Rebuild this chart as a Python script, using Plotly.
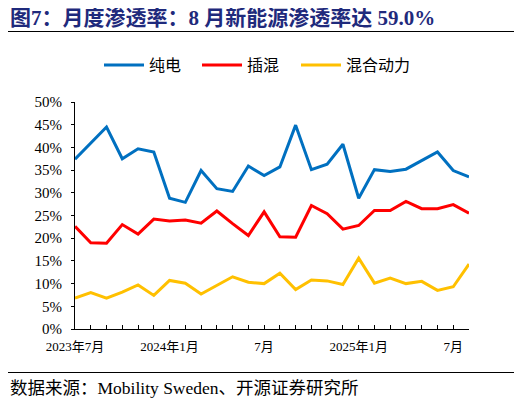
import plotly.graph_objects as go

months = ["2023-07","2023-08","2023-09","2023-10","2023-11","2023-12",
          "2024-01","2024-02","2024-03","2024-04","2024-05","2024-06",
          "2024-07","2024-08","2024-09","2024-10","2024-11","2024-12",
          "2025-01","2025-02","2025-03","2025-04","2025-05","2025-06",
          "2025-07","2025-08"]
bev = [37.4, 41.0, 44.5, 37.5, 39.7, 39.0, 28.8, 27.9, 34.9, 30.9, 30.3, 35.9,
       33.8, 35.7, 44.9, 35.1, 36.3, 40.7, 28.8, 35.1, 34.7, 35.2, 37.1, 39.0,
       34.9, 33.5]
phev = [22.6, 19.0, 18.9, 23.0, 20.9, 24.2, 23.8, 24.0, 23.3, 26.0, 23.2, 20.6,
        25.8, 20.3, 20.2, 27.2, 25.4, 22.0, 22.8, 26.1, 26.1, 28.1, 26.5, 26.5,
        27.4, 25.5]
hev = [6.8, 8.0, 6.8, 8.1, 9.7, 7.4, 10.7, 10.1, 7.7, 9.6, 11.5, 10.3,
       10.0, 12.3, 8.7, 10.8, 10.6, 9.8, 15.6, 10.1, 11.2, 10.0, 10.5, 8.5,
       9.3, 14.3]
series_names = ["纯电", "插混", "混合动力"]
colors = ["#0070C0", "#FF0000", "#FFC000"]
tick_labels = {"2023-07": "2023年7月", "2024-01": "2024年1月", "2024-07": "7月",
               "2025-01": "2025年1月", "2025-07": "7月"}
y_ticks = [0, 5, 10, 15, 20, 25, 30, 35, 40, 45, 50]

FONT = "Liberation Serif, Times New Roman, Noto Sans CJK SC, serif"

# figure sits at an 8px page offset (body margin); convert page px -> paper fraction
FW, FH = 514.0, 399.0

def fx(x):
    return (x - 8) / FW

def fy(y):
    return 1 - (y - 8) / FH

legend_keys = ["legend", "legend2", "legend3"]
legend_x = [99, 197, 296]

fig = go.Figure()
for name, vals, c, lg in zip(series_names, [bev, phev, hev], colors, legend_keys):
    fig.add_trace(go.Scatter(x=months, y=vals, mode="lines", name=name,
                             line=dict(color=c, width=3), legend=lg))

legend_common = dict(orientation="h", yanchor="middle", xanchor="left",
                     font=dict(size=16, family="Noto Sans CJK SC"),
                     itemwidth=40, bgcolor="rgba(0,0,0,0)")
legends = {lg: dict(legend_common, x=fx(lx), y=fy(65))
           for lg, lx in zip(legend_keys, legend_x)}

# thin black bars (annotation boxes) used as rules under title / above source
rules = [dict(text=" ", xref="paper", yref="paper", x=fx(8), y=fy(yy),
              xanchor="left", yanchor="middle", showarrow=False,
              width=508, height=1, borderpad=0, borderwidth=0,
              bgcolor="black", font=dict(size=1, color="black"))
         for yy in (31, 372)]

fig.update_layout(
    width=514, height=399, autosize=False,
    margin=dict(l=0, r=0, t=0, b=0, autoexpand=False),
    paper_bgcolor="white", plot_bgcolor="rgba(0,0,0,0)",
    font=dict(family=FONT, color="black"),
    showlegend=True,
    **legends,
    xaxis=dict(type="category", range=[0, len(months) - 1],
               domain=[fx(75), fx(469)], automargin=False,
               tickmode="array", tickvals=months,
               ticktext=[tick_labels.get(m, "") for m in months],
               ticks="inside", ticklen=4, tickcolor="black",
               showline=True, linecolor="black", linewidth=1,
               showgrid=False, zeroline=False, ticklabelstandoff=5,
               tickfont=dict(size=13, family=FONT)),
    yaxis=dict(range=[0, 50], domain=[fy(329), fy(102)], automargin=False,
               tickvals=y_ticks,
               ticktext=[f"{v}%" for v in y_ticks],
               ticks="outside", ticklen=3, tickcolor="black",
               showline=True, linecolor="black", linewidth=1,
               showgrid=False, zeroline=False, ticklabelstandoff=6,
               tickfont=dict(size=15, family=FONT)),
    annotations=rules + [
        dict(text="<b>图7：月度渗透率：8 月新能源渗透率达 59.0%</b>",
             xref="paper", yref="paper", x=fx(8), y=fy(18),
             xanchor="left", yanchor="middle", showarrow=False,
             font=dict(size=21, color="#1F2A7C", family=FONT)),
        dict(text="数据来源：Mobility Sweden、开源证券研究所",
             xref="paper", yref="paper", x=fx(8), y=fy(388),
             xanchor="left", yanchor="middle", showarrow=False,
             font=dict(size=17.5, color="black", family=FONT)),
    ],
)
fig.write_html("out.html")
